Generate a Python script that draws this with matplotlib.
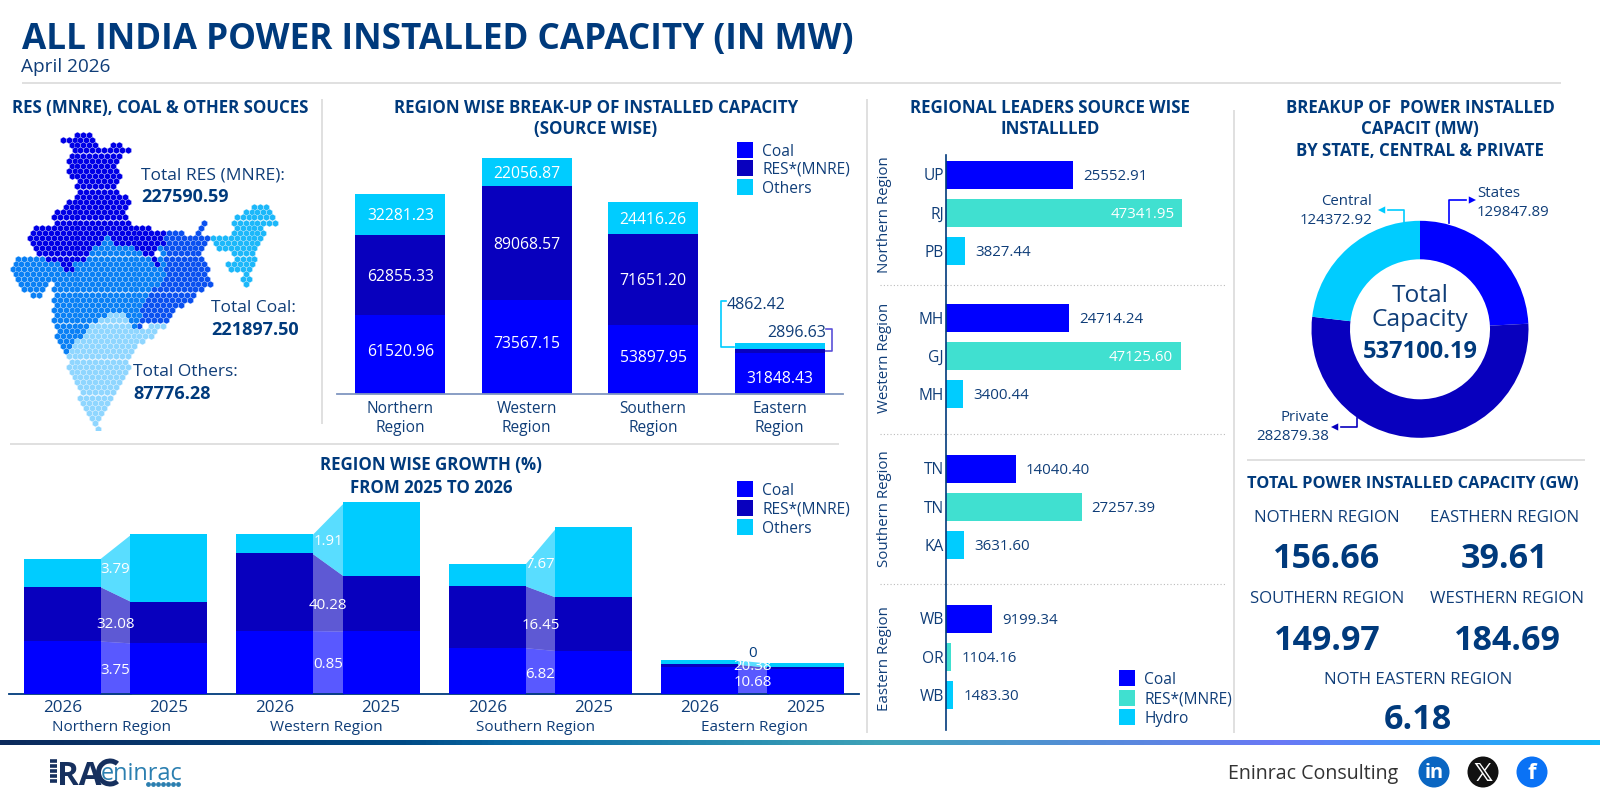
import numpy as np
import matplotlib
matplotlib.use("Agg")
import matplotlib.pyplot as plt
from matplotlib.colors import LinearSegmentedColormap
from matplotlib.patches import Circle, Rectangle, Wedge
from matplotlib.path import Path
from matplotlib.transforms import ScaledTranslation

W, H = 1600, 800
FONT = "Open Sans"
plt.rcParams["font.family"] = [FONT, "DejaVu Sans"]

NAVY = "#003a7c"
TEXT = "#0f3d78"
COAL = "#0000ff"
RES = "#0800be"
OTHERS = "#00ccff"
TURQ = "#40e0d0"
RULE = "#dddddd"

# Region-wise installed capacity (MW)
regions = ["Northern\nRegion", "Western\nRegion", "Southern\nRegion", "Eastern\nRegion"]
coal_2026 = [61520.96, 73567.15, 53897.95, 31848.43]
res_2026 = [62855.33, 89068.57, 71651.20, 2896.63]
others_2026 = [32281.23, 22056.87, 24416.26, 4862.42]

# Prior-year capacity (MW) and the growth percentages printed on the bands
coal_2025 = [59297.0, 72947.0, 50456.0, 28775.0]
res_2025 = [47589.0, 63493.0, 61530.0, 2406.0]
others_2025 = [78500.0, 85100.0, 80800.0, 4862.42]
growth_coal = ["3.75", "0.85", "6.82", "10.68"]
growth_res = ["32.08", "40.28", "16.45", "20.38"]
growth_others = ["3.79", "1.91", "7.67", "0"]
growth_regions = ["Northern Region", "Western Region", "Southern Region", "Eastern Region"]
years = ["2026", "2025"]

# Leading states per region and source
leader_groups = ["Northern Region", "Western Region", "Southern Region", "Eastern Region"]
leader_states = ["UP", "RJ", "PB", "MH", "GJ", "MH", "TN", "TN", "KA", "WB", "OR", "WB"]
leader_values = [25552.91, 47341.95, 3827.44, 24714.24, 47125.60, 3400.44,
                 14040.40, 27257.39, 3631.60, 9199.34, 1104.16, 1483.30]

# Ownership split (MW)
owners = ["States", "Private", "Central"]
owner_values = [129847.89, 282879.38, 124372.92]

# Regional totals (GW)
total_names = ["NOTHERN REGION", "EASTHERN REGION", "SOUTHERN REGION", "WESTHERN REGION", "NOTH EASTERN REGION"]
total_values = ["156.66", "39.61", "149.97", "184.69", "6.18"]

fig = plt.figure(figsize=(16, 8), dpi=100, facecolor="white")


def px_axes(x0, y0, x1, y1):
    """Axes placed by pixel box, y measured from the top of the figure."""
    ax = fig.add_axes([x0 / W, 1 - y1 / H, (x1 - x0) / W, (y1 - y0) / H])
    ax.patch.set_alpha(0)
    return ax


page = px_axes(0, 0, W, H)
page.set_xlim(0, W)
page.set_ylim(H, 0)
page.axis("off")


def label(x, y, s, px=15, weight="normal", color=TEXT, ha="center", va="center", ax=page, **kw):
    # The font's box sits high on its caps, so nudge every label down in proportion to its size.
    nudge = ScaledTranslation(0, -0.12 * px / 100, fig.dpi_scale_trans)
    return ax.text(x, y, s, fontsize=px * 0.72, fontweight=weight, color=color, ha=ha, va=va,
                   transform=ax.transData + nudge, **kw)


def rule(x0, y0, x1, y1, color=RULE, lw=1.3, **kw):
    page.plot([x0, x1], [y0, y1], color=color, lw=lw, solid_capstyle="butt", **kw)


# Header
label(22, 36, "ALL INDIA POWER INSTALLED CAPACITY (IN MW)", px=35.1, weight="bold", color=NAVY, ha="left")
label(21, 64.5, "April 2026", px=19, ha="left")
rule(22, 83, 1561, 83)

# Panel dividers
rule(322, 99, 322, 424)
rule(867, 99, 867, 733)
rule(1234, 110, 1234, 733)
rule(10, 444, 839, 444)
rule(1247, 460, 1585, 460)

# Section headings
for x, y, s in [
    (160, 106, "RES (MNRE), COAL & OTHER SOUCES"),
    (596, 106, "REGION WISE BREAK-UP OF INSTALLED CAPACITY"),
    (596, 127, "(SOURCE WISE)"),
    (1050, 106, "REGIONAL LEADERS SOURCE WISE"),
    (1050, 127, "INSTALLLED"),
    (1420, 106, "BREAKUP OF  POWER INSTALLED"),
    (1420, 127, "CAPACIT (MW)"),
    (1420, 149, "BY STATE, CENTRAL & PRIVATE"),
    (431, 463, "REGION WISE GROWTH (%)"),
    (431, 486, "FROM 2025 TO 2026"),
]:
    label(x, y, s, px=16.9, weight="bold", color=NAVY)
label(1413, 482, "TOTAL POWER INSTALLED CAPACITY (GW)", px=16.4, weight="bold", color=NAVY)

# Hexagon-cell map, regions given as outlines in map units
map_ax = px_axes(0, 90, 320, 430)
map_ax.set_xlim(0, 960)
map_ax.set_ylim(1020, 0)
map_ax.axis("off")

north_outline = [(185, 150), (240, 125), (265, 130), (285, 160), (310, 175), (340, 155), (388, 180), (360, 205),
                 (345, 220), (360, 250), (345, 290), (355, 305), (392, 325), (375, 350), (400, 405), (490, 420),
                 (497, 460), (470, 480), (472, 530), (450, 512), (425, 480), (345, 465), (325, 432), (280, 480),
                 (260, 518), (225, 510), (215, 550), (195, 550), (175, 512), (110, 500), (100, 465), (80, 435),
                 (100, 400), (155, 402), (165, 365), (190, 345), (225, 320), (230, 280), (198, 240), (203, 205),
                 (212, 175)]
east_outline = [(480, 420), (590, 435), (595, 405), (605, 388), (622, 405), (612, 430), (632, 440), (615, 460),
                (605, 490), (620, 530), (640, 582), (610, 605), (580, 600), (578, 632), (530, 660), (505, 695),
                (440, 700), (420, 720), (408, 700), (430, 650), (465, 590), (495, 570), (497, 460)]
west_outline = [(28, 525), (55, 502), (175, 505), (195, 552), (215, 552), (225, 505), (260, 518), (280, 480),
                (325, 430), (345, 465), (425, 480), (450, 512), (472, 532), (472, 480), (497, 460), (497, 570),
                (465, 590), (430, 650), (410, 720), (390, 692), (350, 662), (310, 680), (270, 710), (235, 745),
                (210, 775), (197, 808), (170, 755), (152, 660), (165, 610), (155, 578), (130, 618), (85, 618),
                (55, 570)]
south_outline = [(350, 662), (390, 692), (410, 720), (440, 705), (508, 692), (440, 750), (420, 765), (385, 790),
                 (382, 850), (360, 880), (330, 930), (293, 1020), (243, 940), (225, 880), (198, 840), (197, 805),
                 (210, 775), (235, 745), (270, 710), (310, 680)]
ne_outline = [(630, 432), (695, 432), (695, 405), (715, 375), (765, 345), (808, 345), (838, 397), (800, 402),
              (790, 440), (768, 500), (745, 540), (752, 578), (735, 592), (718, 570), (725, 540), (700, 545),
              (678, 525), (700, 505), (700, 485), (655, 490), (635, 460)]

map_regions = [
    (north_outline, "#0000e6"),
    (ne_outline, "#1cb8fa"),
    (east_outline, "#0a50f0"),
    (west_outline, "#0a80f5"),
    (south_outline, "#8fd6ff"),
]
rows = np.arange(135, 1020, 15.45)
centres = np.array([(x + (i % 2) * 8.85, y) for i, y in enumerate(rows) for x in np.arange(20, 850, 17.7)])
taken = np.zeros(len(centres), dtype=bool)
for outline, colour in map_regions:
    inside = Path(outline).contains_points(centres) & ~taken
    taken |= inside
    map_ax.scatter(centres[inside, 0], centres[inside, 1], s=25, marker="h", color=colour,
                   edgecolors="white", linewidths=0.2, zorder=2)

label(141, 173, "Total RES (MNRE):", px=17.4, ha="left")
label(141, 195, "227590.59", px=18, weight="bold", color=NAVY, ha="left")
label(211, 306, "Total Coal:", px=17.4, ha="left")
label(211, 328, "221897.50", px=18, weight="bold", color=NAVY, ha="left")
label(133, 370, "Total Others:", px=17.4, ha="left")
label(133, 392, "87776.28", px=18, weight="bold", color=NAVY, ha="left")


def source_legend(x, ys, names, colours):
    for y, name, colour in zip(ys, names, colours):
        page.add_patch(Rectangle((x, y - 8), 16, 16, facecolor=colour, edgecolor="none", zorder=5))
        label(x + 25, y, name, px=15.5, ha="left", zorder=5)


# Break-up by source, stacked columns
break_ax = px_axes(337, 100, 843, 393.7)
x_pos = np.arange(len(regions))
coal_a, res_a, oth_a = map(np.array, (coal_2026, res_2026, others_2026))
break_ax.bar(x_pos, coal_a, 0.71, color=COAL)
break_ax.bar(x_pos, res_a, 0.71, bottom=coal_a, color=RES)
break_ax.bar(x_pos, oth_a, 0.71, bottom=coal_a + res_a, color=OTHERS)
break_ax.set_xlim(-0.5, 3.5)
break_ax.set_ylim(0, 293.7 / 0.001275)
for s in ("top", "left", "right"):
    break_ax.spines[s].set_visible(False)
break_ax.spines["bottom"].set_color("#8096c0")
break_ax.spines["bottom"].set_linewidth(1.3)
break_ax.set_yticks([])
break_ax.set_xticks(x_pos, regions)
break_ax.tick_params(axis="x", length=0, pad=5, labelsize=15.5 * 0.72, labelcolor=TEXT)
for tick in break_ax.get_xticklabels():
    tick.set_linespacing(1.3)
for i in x_pos:
    label(i, coal_a[i] * 0.55 if i < 3 else coal_a[i] * 0.42, f"{coal_2026[i]:.2f}", px=15.7, color="white", ax=break_ax)
    if i < 3:
        label(i, coal_a[i] + res_a[i] / 2, f"{res_2026[i]:.2f}", px=15.7, color="white", ax=break_ax)
        label(i, coal_a[i] + res_a[i] + oth_a[i] / 2, f"{others_2026[i]:.2f}", px=15.7, color="white", ax=break_ax)
source_legend(737, [150, 168, 187], ["Coal", "RES*(MNRE)", "Others"], [COAL, RES, OTHERS])

# Callouts for the two thin eastern bands
label(727, 303, f"{others_2026[3]:.2f}", px=16, ha="left")
label(826, 331, f"{res_2026[3]:.2f}", px=16, ha="right")
page.plot([726, 721, 721, 734], [300.5, 300.5, 346.7, 346.7], color=OTHERS, lw=1.2)
page.plot([826, 832, 832, 825], [328.7, 328.7, 351, 351], color="#5a50d8", lw=1.2)

# Year-on-year growth, paired columns joined by translucent bands
growth_ax = px_axes(9.4, 480, 859, 694.3)
pairs = np.arange(8)
bar_w = 77 / 106.3
stack_26 = np.array([coal_2026, res_2026, others_2026]).cumsum(axis=0)
stack_25 = np.array([coal_2025, res_2025, others_2025]).cumsum(axis=0)
growth_series = [COAL, RES, OTHERS]
for level, colour in enumerate(growth_series):
    low_26 = stack_26[level - 1] if level else np.zeros(4)
    low_25 = stack_25[level - 1] if level else np.zeros(4)
    growth_ax.bar(pairs[0::2], stack_26[level] - low_26, bar_w, bottom=low_26, color=colour, zorder=3)
    growth_ax.bar(pairs[1::2], stack_25[level] - low_25, bar_w, bottom=low_25, color=colour, zorder=3)
    for g in range(4):
        # Bands run slightly under the opaque columns so no seam shows at their edges.
        xs = [2 * g + bar_w / 2 - 0.01, 2 * g + 1 - bar_w / 2 + 0.01]
        growth_ax.fill_between(xs, [low_26[g], low_25[g]], [stack_26[level][g], stack_25[level][g]],
                               color=colour, alpha=0.65, linewidth=0, zorder=1)
growth_ax.set_xlim(-0.5, 7.5)
growth_ax.set_ylim(0, 214.3 / 0.000866)
for s in ("top", "left", "right"):
    growth_ax.spines[s].set_visible(False)
growth_ax.spines["bottom"].set_color(NAVY)
growth_ax.spines["bottom"].set_linewidth(1.3)
growth_ax.set_yticks([])
growth_ax.set_xticks(pairs, years * 4)
growth_ax.tick_params(axis="x", length=0, pad=4, labelsize=17 * 0.72, labelcolor=TEXT)
region_centres = [112, 326, 536, 754]
for g in range(4):
    xc = 2 * g + 0.5
    for level, text in enumerate((growth_coal[g], growth_res[g], growth_others[g])):
        low = stack_25[level - 1][g] if level else 0
        top = stack_25[level][g]
        if g == 3:
            spot = [681, 665, 651.5][level]
            label(xc, (694.3 - spot) / 0.000866, text, color=NAVY if level == 2 else "white", ax=growth_ax, zorder=6)
        else:
            label(xc, (low + top) / 2, text, color="white", ax=growth_ax, zorder=6)
    label(region_centres[g], 726, growth_regions[g], px=15.3)
source_legend(737, [489, 508, 527], ["Coal", "RES*(MNRE)", "Others"], [COAL, RES, OTHERS])

# Regional leaders, horizontal bars in four groups
lead_top, lead_bot = 155, 730
lead_ax = px_axes(946, lead_top, 1200, lead_bot)
group_first = [174.5, 317.5, 468.5, 618.5]
slot = 38.3
slot_y = [group_first[k // 3] + slot * (k % 3) for k in range(12)]
lead_ax.barh(slot_y, leader_values, height=28, color=[COAL, TURQ, OTHERS] * 4)
lead_ax.set_xlim(0, 254 / 0.00498)
lead_ax.set_ylim(lead_bot, lead_top)
for s in ("top", "bottom", "right"):
    lead_ax.spines[s].set_visible(False)
lead_ax.spines["left"].set_color(NAVY)
lead_ax.spines["left"].set_linewidth(1.2)
lead_ax.set_xticks([])
lead_ax.set_yticks(slot_y, leader_states)
lead_ax.tick_params(axis="y", length=0, pad=1.5, labelsize=15.5 * 0.72, labelcolor=TEXT)
for y, v in zip(slot_y, leader_values):
    if v > 40000:
        label(v - 1500, y, f"{v:.2f}", color="white", ha="right", ax=lead_ax)
    else:
        label(v + 2000, y, f"{v:.2f}", ha="left", ax=lead_ax)
for k, name in enumerate(leader_groups):
    label(885, np.mean(slot_y[3 * k:3 * k + 3]), name, rotation=90)
for y in (284.7, 433.7, 583.7):
    page.plot([880, 1225], [y, y], color="#bbbbbb", lw=0.8, ls=(0, (1, 2)))
source_legend(1119, [678, 698, 717], ["Coal", "RES*(MNRE)", "Hydro"], [COAL, TURQ, OTHERS])

# Ownership donut
cx, cy, outer, inner = 1420, 329.3, 108.5, 70
donut_ax = px_axes(cx - outer, cy - outer, cx + outer, cy + outer)
donut_ax.pie(owner_values, colors=[COAL, RES, OTHERS], startangle=90, counterclock=False,
             radius=1, wedgeprops={"width": 1 - inner / outer, "linewidth": 0})
donut_ax.set_xlim(-1, 1)
donut_ax.set_ylim(-1, 1)
label(1420, 293, "Total", px=24.5)
label(1420, 317, "Capacity", px=24.5)
label(1420, 349, f"{sum(owner_values):.2f}", px=23.6, weight="bold", color=NAVY)


def callout(xs, ys, tip, colour):
    page.plot(xs, ys, color=colour, lw=1.2)
    page.annotate("", xy=tip, xytext=(xs[-1], ys[-1]),
                  arrowprops=dict(arrowstyle="-|>", color=colour, lw=0, mutation_scale=13,
                                  shrinkA=0, shrinkB=0))


callout([1449.3, 1449.3, 1466], [223.3, 200, 200], (1476, 200), COAL)
callout([1403.7, 1403.7, 1388], [221.7, 210, 210], (1378, 210), OTHERS)
callout([1357, 1357, 1341], [418, 427, 427], (1331, 427), RES)
label(1477, 192, owners[0], ha="left")
label(1477, 211, f"{owner_values[0]:.2f}", ha="left")
label(1372, 200, owners[2], ha="right")
label(1372, 219, f"{owner_values[2]:.2f}", ha="right")
label(1329, 416, owners[1], ha="right")
label(1329, 435, f"{owner_values[1]:.2f}", ha="right")

# Regional totals in GW
name_spots = [(1327, 516), (1505, 516), (1327, 597), (1507, 597), (1418, 678)]
value_spots = [(1327, 555), (1505, 555), (1327, 637), (1507, 637), (1418, 716)]
for (nx, ny), name in zip(name_spots, total_names):
    label(nx, ny, name, px=16.7)
for (vx, vy), value in zip(value_spots, total_values):
    label(vx, vy, value, px=34, weight="bold", color=NAVY)

# Footer gradient strip
strip_ax = px_axes(0, 740, W, 745)
strip_ax.axis("off")
strip_map = LinearSegmentedColormap.from_list(
    "strip", [(0, "#0c2a5c"), (0.25, "#004a85"), (0.32, "#0a6aa5"), (0.55, "#3ea3b8"), (0.8, "#6a78f5"), (1, "#10b8f8")])
strip_ax.imshow(np.linspace(0, 1, 800)[None, :], aspect="auto", cmap=strip_map)

# Wordmark: louvre stripes, "RA", a drawn C and the lower-case name
for y in (761, 766, 771, 776, 781):
    page.plot([50, 57], [y, y], color="#16305e", lw=2.6, solid_capstyle="butt")
label(57, 772.5, "RA", px=33, weight="bold", color="#16305e", ha="left")
page.add_patch(Wedge((110, 772.5), 14, 50, 310, width=5, facecolor="#16305e", edgecolor="none"))
label(101, 771, "eninrac", px=23.5, color="#2b7fb0", ha="left")
page.scatter(np.linspace(148, 178, 7), [783.5] * 7, s=6, color="#2b7fb0", zorder=3)

# Contact line and social badges
label(1228, 772, "Eninrac Consulting", px=19.7, color="#333333", ha="left")
for x, colour, mark, fam, size in [(1434, "#0a66c2", "in", FONT, 20), (1483, "#111111", "𝕏", "DejaVu Sans", 24),
                                   (1532, "#0a72f5", "f", FONT, 22)]:
    page.add_patch(Circle((x, 772), 15.5, facecolor=colour, edgecolor="none"))
    label(x, 771, mark, px=size, weight="bold", color="white", family=fam)

fig.savefig("out.png", dpi=100)
